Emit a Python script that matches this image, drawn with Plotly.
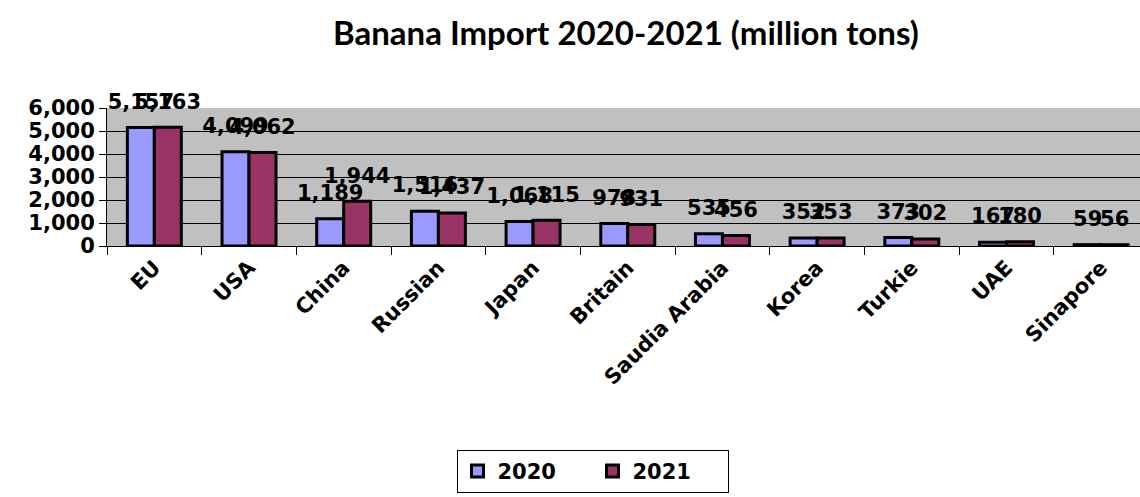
import plotly.graph_objects as go

categories = ["EU", "USA", "China", "Russian", "Japan", "Britain", "Saudia Arabia",
              "Korea", "Turkie", "UAE", "Sinapore"]
imports_2020 = [5157, 4099, 1189, 1516, 1068, 978, 535, 352, 373, 167, 59]
imports_2021 = [5163, 4062, 1944, 1437, 1115, 931, 456, 353, 302, 180, 56]
y_ticks = [0, 1000, 2000, 3000, 4000, 5000, 6000]

TFONT = "Lato"
FONT = "DejaVu Sans"
C2020 = "#9999FF"
C2021 = "#993366"

fig = go.Figure()
for name, vals, col in [("2020", imports_2020, C2020), ("2021", imports_2021, C2021)]:
    fig.add_trace(go.Bar(
        x=categories, y=vals, name=f"<b>{name}</b>", offsetgroup=name,
        marker=dict(color=col, line=dict(color="black", width=3)),
    ))
for name, vals in [("2020", imports_2020), ("2021", imports_2021)]:
    fig.add_trace(go.Scatter(
        x=categories, y=vals, mode="markers+text", offsetgroup=name,
        text=[f"<b>{v:,}</b>" for v in vals], textposition="top center",
        textfont=dict(family=FONT, size=21, color="black"),
        marker=dict(size=20, opacity=0), showlegend=False, hoverinfo="skip",
        cliponaxis=False,
    ))

fig.update_layout(
    width=1140, height=497,
    margin=dict(l=107, r=0, t=108, b=251),
    paper_bgcolor="white", plot_bgcolor="#C0C0C0",
    barmode="group", bargap=0.43, bargroupgap=0,
    scattermode="group", scattergap=0.43,
    font=dict(family=FONT, color="black"),
    title=dict(text="<b>Banana Import 2020-2021 (million tons)</b>",
               font=dict(family=TFONT, size=33, color="black"),
               x=0.549, xref="container", xanchor="center",
               y=0.932, yref="container", yanchor="middle"),
    xaxis=dict(range=[-0.5, 10.41], showgrid=False, showline=True, linecolor="black", linewidth=1,
               ticks="outside", tickson="boundaries", ticklen=8, tickcolor="black",
               tickvals=categories, ticktext=[f"<b>{c}</b>" for c in categories],
               tickangle=-45, tickfont=dict(family=FONT, size=21)),
    yaxis=dict(range=[0, 6000], tickvals=y_ticks, ticktext=[f"<b>{v:,}</b>" for v in y_ticks],
               showgrid=True, gridcolor="black", gridwidth=1,
               showline=True, linecolor="black", linewidth=1,
               ticks="outside", ticklen=7, tickcolor="black", zeroline=False,
               tickfont=dict(family=FONT, size=21)),
    legend=dict(orientation="h", x=0.47, xanchor="center", y=-1.478, yanchor="top",
                bordercolor="black", borderwidth=1, bgcolor="white",
                font=dict(family=FONT, size=21), entrywidth=90),
)
fig.write_html("out.html")
